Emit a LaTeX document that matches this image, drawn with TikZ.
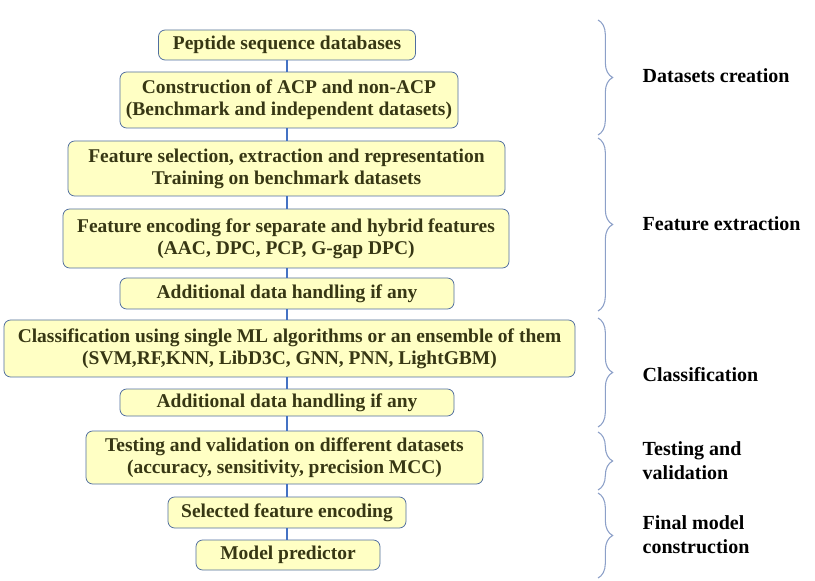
\documentclass[tikz,border=0pt]{standalone}
\usepackage{fontspec}
\setmainfont{Liberation Serif}
\usetikzlibrary{decorations.pathreplacing}
\definecolor{boxfill}{RGB}{255,255,196}
\definecolor{boxline}{RGB}{80,110,160}
\definecolor{boxtext}{RGB}{55,55,20}
\definecolor{linkblue}{RGB}{68,114,196}
\definecolor{bracecol}{RGB}{140,160,200}
\begin{document}
\begin{tikzpicture}[x=0.75pt,y=0.75pt,yscale=-1,xscale=1,
  box/.style={draw=boxline,fill=boxfill,rounded corners=5pt,line width=0.6pt,
    text=boxtext,font=\fontsize{14.6}{16.5}\selectfont\bfseries,align=center,inner sep=1pt},
  link/.style={draw=linkblue,line width=1.8pt},
  stage/.style={decorate,decoration={brace,amplitude=11pt},draw=bracecol,line width=0.8pt},
  tag/.style={anchor=west,font=\fontsize{15}{18}\selectfont\bfseries,align=left}]
\useasboundingbox (0,0) rectangle (815,581);

% Boxes
\node [box,minimum width=192.75pt,minimum height=22.5pt] (db) at (287,45) {Peptide sequence databases};
\node [box,minimum width=253.5pt,minimum height=42pt] (acp) at (289,100) {Construction of ACP and non-ACP\\(Benchmark and independent datasets)};
\node [box,minimum width=327.75pt,minimum height=41.25pt] (sel) at (286.5,168.5) {Feature selection, extraction and representation\\Training on benchmark datasets};
\node [box,minimum width=334.5pt,minimum height=44.25pt] (enc) at (286,238.5) {Feature encoding for separate and hybrid features\\(AAC, DPC, PCP, G-gap DPC)};
\node [box,minimum width=250.5pt,minimum height=23.25pt] (add1) at (287,293.5) {Additional data handling if any};
\node [box,minimum width=428.25pt,minimum height=42.75pt] (cls) at (289.5,348.5) {Classification using single ML algorithms or an ensemble of them\\(SVM,RF,KNN, LibD3C, GNN, PNN, LightGBM)};
\node [box,minimum width=250.5pt,minimum height=20.25pt] (add2) at (287,402.5) {Additional data handling if any};
\node [box,minimum width=297.75pt,minimum height=39.75pt] (test) at (284.5,457.5) {Testing and validation on different datasets\\(accuracy, sensitivity, precision MCC)};
\node [box,minimum width=178.5pt,minimum height=23.25pt] (fenc) at (287,512.5) {Selected feature encoding};
\node [box,minimum width=138pt,minimum height=22.5pt] (pred) at (288,555) {Model predictor};

% Links
\draw [link] (db.south) -- (db.south |- acp.north);
\draw [link] (db.south |- acp.south) -- (db.south |- sel.north);
\draw [link] (db.south |- sel.south) -- (db.south |- enc.north);
\draw [link] (db.south |- enc.south) -- (db.south |- add1.north);
\draw [link] (db.south |- add1.south) -- (db.south |- cls.north);
\draw [link] (db.south |- cls.south) -- (db.south |- add2.north);
\draw [link] (db.south |- add2.south) -- (db.south |- test.north);
\draw [link] (db.south |- test.south) -- (db.south |- fenc.north);
\draw [link] (db.south |- fenc.south) -- (db.south |- pred.north);

% Braces
\coordinate (b1t) at (598,20);  \coordinate (b1b) at (598,135);
\coordinate (b2t) at (598,138); \coordinate (b2b) at (598,311);
\coordinate (b3t) at (598,318); \coordinate (b3b) at (598,427);
\coordinate (b4t) at (598,432); \coordinate (b4b) at (598,490);
\coordinate (b5t) at (598,493); \coordinate (b5b) at (598,578);
\draw [stage] (b1t) -- (b1b);
\draw [stage] (b2t) -- (b2b);
\draw [stage] (b3t) -- (b3b);
\draw [stage] (b4t) -- (b4b);
\draw [stage] (b5t) -- (b5b);

% Labels
\node [tag] (l1) at (638,76) {Datasets creation};
\node [tag] (l2) at (638,224) {Feature extraction};
\node [tag] (l3) at (638,375) {Classification};
\node [tag] (l4) at (638,461) {Testing and\\validation};
\node [tag] (l5) at (638,535) {Final model\\construction};
\end{tikzpicture}
\end{document}
